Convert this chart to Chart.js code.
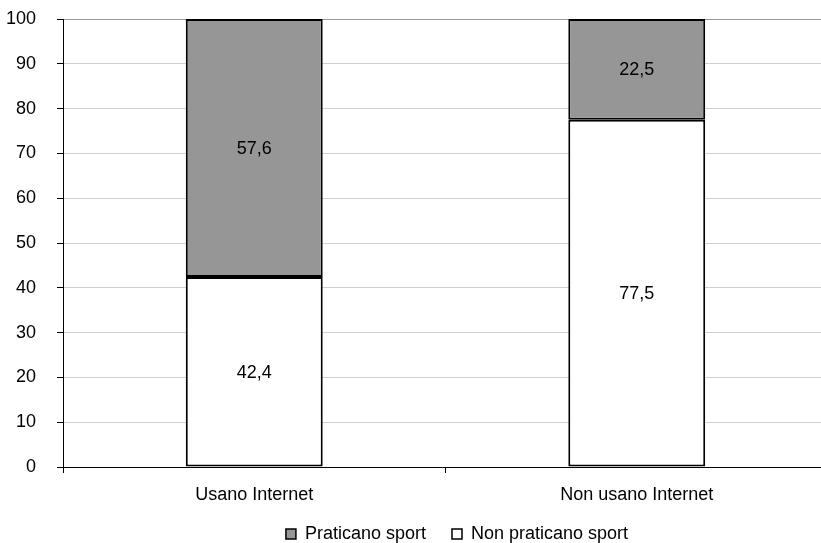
<!DOCTYPE html>
<html>
<head>
<meta charset="utf-8">
<script src="https://cdn.jsdelivr.net/npm/chart.js@4/dist/chart.umd.min.js"></script>
<style>
    html, body { margin: 0; padding: 0; background: #fff; }
    #wrap { width: 821px; height: 543px; }
</style>
</head>
<body>
<div id="wrap"><canvas id="sportChart" width="821" height="543"></canvas></div>
<script>
const categories = ['Usano Internet', 'Non usano Internet'];
const nonPraticano = [42.4, 77.5];
const praticano = [57.6, 22.5];
const yTicks = [0, 10, 20, 30, 40, 50, 60, 70, 80, 90, 100];

const FONT = 'Liberation Sans, Arial, sans-serif';

function formatComma(value) {
    return Number(value).toFixed(1).replace('.', ',');
}

// draws the value in the middle of each bar segment
const barLabels = {
    id: 'barLabels',
    afterDatasetsDraw(chart) {
        const ctx = chart.ctx;
        ctx.save();
        ctx.font = `18px ${FONT}`;
        ctx.fillStyle = '#000';
        ctx.textAlign = 'center';
        ctx.textBaseline = 'middle';
        chart.data.datasets.forEach((ds, i) => {
            chart.getDatasetMeta(i).data.forEach((bar, j) => {
                const mid = (bar.y + bar.base) / 2;
                ctx.fillText(formatComma(ds.data[j]), bar.x, mid + 1);
            });
        });
        ctx.restore();
    }
};

// the original plot runs a few px past the right edge, and the legend sits a bit off-centre
const layoutTweaks = {
    id: 'layoutTweaks',
    afterLayout(chart) {
        const x = chart.scales.x;
        x.right += 7;
        x.width += 7;
        chart.chartArea.right += 7;
        chart.chartArea.width += 7;
        x.configure();

        const lg = chart.legend;
        if (!lg) return;
        lg.left += 15;
        lg.right += 15;
        lg.top -= 8;
        lg.bottom -= 8;
    }
};

new Chart(document.getElementById('sportChart'), {
    type: 'bar',
    data: {
        labels: categories,
        datasets: [{
            label: 'Non praticano sport',
            data: nonPraticano,
            backgroundColor: '#ffffff',
            borderColor: '#000000',
            borderWidth: 2,
            borderSkipped: false,
            barPercentage: 0.358,
            categoryPercentage: 1
        }, {
            label: 'Praticano sport',
            data: praticano,
            backgroundColor: '#969696',
            borderColor: '#000000',
            borderWidth: 2,
            borderSkipped: false,
            barPercentage: 0.358,
            categoryPercentage: 1
        }]
    },
    options: {
        responsive: false,
        animation: false,
        layout: { padding: { left: 0, top: 0, right: 0, bottom: -18 } },
        plugins: {
            tooltip: { enabled: false },
            legend: {
                position: 'bottom',
                fullSize: false,
                reverse: true,
                labels: {
                    font: { family: FONT, size: 18 },
                    color: '#000',
                    boxWidth: 10,
                    boxHeight: 10,
                    padding: 26,
                    generateLabels(chart) {
                        return chart.data.datasets.map((ds, i) => ({
                            text: ds.label,
                            fillStyle: ds.backgroundColor,
                            strokeStyle: '#000',
                            lineWidth: 1.5,
                            datasetIndex: i,
                            hidden: false
                        }));
                    }
                }
            }
        },
        scales: {
            x: {
                stacked: true,
                afterFit(axis) {
                    axis.height = 40;
                },
                grid: {
                    offset: true,
                    drawOnChartArea: false,
                    drawTicks: true,
                    tickLength: 6,
                    color: '#000'
                },
                border: { color: '#000', width: 1 },
                ticks: {
                    font: { family: FONT, size: 18 },
                    color: '#000',
                    padding: 11
                }
            },
            y: {
                stacked: true,
                min: 0,
                max: 100,
                afterBuildTicks(axis) {
                    axis.ticks = yTicks.map((v) => ({ value: v }));
                },
                afterFit(axis) {
                    axis.width = 63;
                    axis.paddingTop = 19;
                },
                grid: {
                    color(ctx) {
                        if (ctx.tick === undefined) return '#d0d0d0';
                        return ctx.tick.value === 100 ? '#999999' : '#d0d0d0';
                    },
                    tickColor: '#000',
                    tickLength: 6,
                    lineWidth: 1
                },
                border: { color: '#000', width: 1 },
                ticks: {
                    font: { family: FONT, size: 18 },
                    color: '#000',
                    padding: 21
                }
            }
        }
    },
    plugins: [barLabels, layoutTweaks]
});
</script>
</body>
</html>
